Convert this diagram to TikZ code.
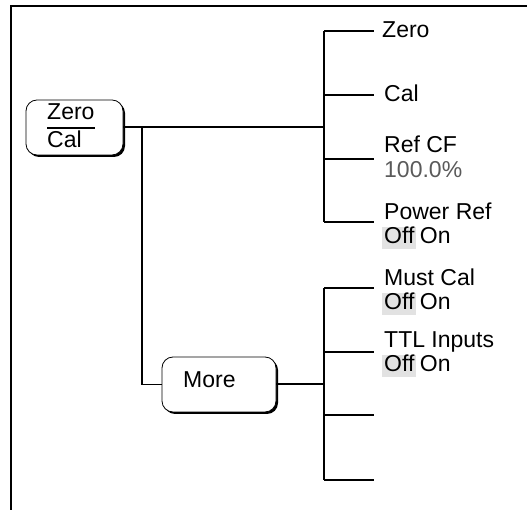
\documentclass[tikz,border=0pt]{standalone}
\usepackage{fontspec}
\setmainfont{Liberation Sans}
\definecolor{hl}{HTML}{E2E2E2}
\definecolor{valgray}{HTML}{5A5A5A}
\begin{document}
\begin{tikzpicture}[x=1pt,y=1pt,
  every node/.style={font=\fontsize{23}{24}\selectfont},
  conn/.style={line width=1.3pt},
  keybox/.style={draw, line width=0.8pt, fill=white, rounded corners=11pt, inner sep=0pt},
  keyshadow/.style={fill=black, rounded corners=11pt, inner sep=0pt},
  lbl/.style={anchor=base west, inner sep=0pt},
  offbox/.style={anchor=base west, fill=hl, inner xsep=2pt, inner ysep=0pt, text height=17pt, text depth=5pt},
]
\useasboundingbox (0,0) rectangle (527,510);
% frame
\draw[conn] (11,0) -- (11,504) -- (527,504);

% Zero/Cal key
\node[keyshadow, minimum width=97pt, minimum height=55pt] at (76.5,380.5) {};
\node[keybox, minimum width=97pt, minimum height=55pt] (zc) at (74.5,382.5) {};
\node[lbl] (zt) at (47,390) {Zero};
\node[lbl] (ct) at (47,362) {Cal};
\draw[line width=1.2pt] (47,382) -- (95,382);

% More key
\node[keyshadow, minimum width=114pt, minimum height=55pt] at (221,123.5) {};
\node[keybox, minimum width=114pt, minimum height=55pt] (more) at (219,125.5) {};
\node[lbl] (mt) at (183,122) {More};

% junctions
\coordinate (j1) at (324,383);
\coordinate (j2) at (324,126);
\coordinate (b) at (142,383);
\draw[conn] (zc.east |- j1) -- (j1);
\draw[conn] (b) |- (more.west);
\draw[conn] (more.east |- j2) -- (j2);

% upper tree
\coordinate (u1) at (324,479);
\coordinate (u2) at (324,415);
\coordinate (u3) at (324,351);
\coordinate (u4) at (324,288);
\coordinate (ue1) at (374,479);
\coordinate (ue2) at (374,415);
\coordinate (ue3) at (374,351);
\coordinate (ue4) at (374,288);
\draw[conn] (u1) -- (u4);
\draw[conn] (u1) -- (ue1);
\draw[conn] (u2) -- (ue2);
\draw[conn] (u3) -- (ue3);
\draw[conn] (u4) -- (ue4);

% lower tree
\coordinate (l1) at (324,222);
\coordinate (l2) at (324,158);
\coordinate (l3) at (324,95);
\coordinate (l4) at (324,30);
\coordinate (le1) at (374,222);
\coordinate (le2) at (374,158);
\coordinate (le3) at (374,95);
\coordinate (le4) at (374,30);
\draw[conn] (l1) -- (l4);
\draw[conn] (l1) -- (le1);
\draw[conn] (l2) -- (le2);
\draw[conn] (l3) -- (le3);
\draw[conn] (l4) -- (le4);

% labels upper
\node[lbl] (zero) at (382,472) {Zero};
\node[lbl] (cal) at (384,408) {Cal};
\node[lbl] (refcf) at (384,357) {Ref CF};
\node[lbl, text=valgray] (refv) at (384,332) {100.0\%};
\node[lbl] (pref) at (384,290) {Power Ref};
\node[offbox] (poff) at (382,266) {Off};
\node[lbl, anchor=base west] (pon) at ([xshift=3pt]poff.base east) {On};

% labels lower
\node[lbl] (mcal) at (384,224) {Must Cal};
\node[offbox] (moff) at (382,200) {Off};
\node[lbl] (mon) at ([xshift=3pt]moff.base east) {On};
\node[lbl] (ttl) at (384,162) {TTL Inputs};
\node[offbox] (toff) at (382,138) {Off};
\node[lbl] (ton) at ([xshift=3pt]toff.base east) {On};
\end{tikzpicture}
\end{document}
